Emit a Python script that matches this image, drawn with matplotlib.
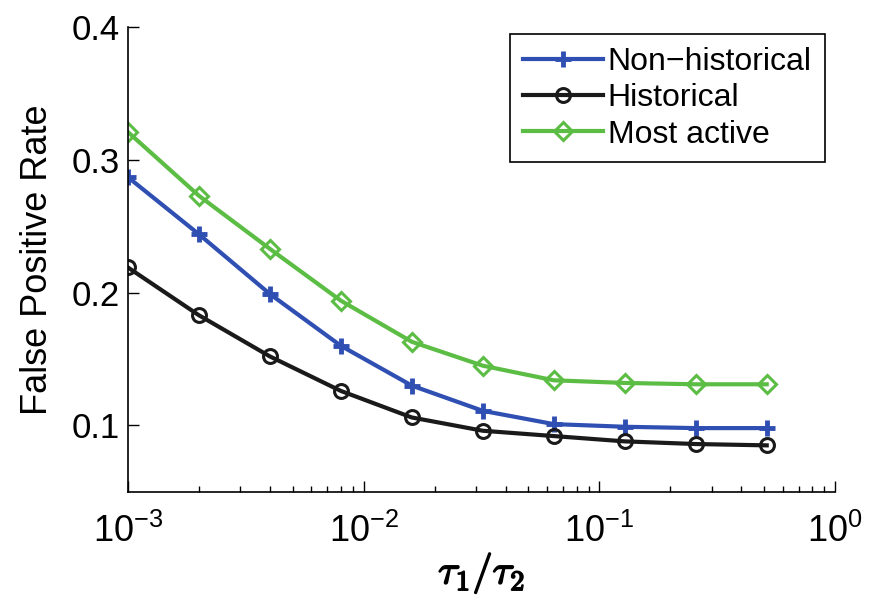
import numpy as np
import matplotlib
matplotlib.use("Agg")
import matplotlib.pyplot as plt
import matplotlib.patheffects as pe
from matplotlib.ticker import LogLocator

# data
ratio = [0.001, 0.002, 0.004, 0.008, 0.016, 0.032, 0.064, 0.128, 0.256, 0.512]
non_historical = [0.287, 0.244, 0.199, 0.160, 0.130, 0.111, 0.101, 0.099, 0.098, 0.098]
historical = [0.219, 0.183, 0.152, 0.126, 0.106, 0.096, 0.092, 0.088, 0.086, 0.085]
most_active = [0.321, 0.273, 0.233, 0.194, 0.163, 0.145, 0.134, 0.132, 0.131, 0.131]

plt.rcParams["font.family"] = ["Liberation Sans", "DejaVu Sans"]
plt.rcParams["mathtext.fontset"] = "custom"
plt.rcParams["mathtext.rm"] = "Liberation Sans"
plt.rcParams["mathtext.it"] = "Liberation Sans:italic"
plt.rcParams["mathtext.bf"] = "Liberation Sans:bold"

fig = plt.figure(figsize=(8.82, 6.02), dpi=100)
ax = fig.add_axes([0.145, 0.183, 0.802, 0.772])

ax.plot(ratio, non_historical, color="#2f4fb2", lw=3, marker="+", ms=11, mew=3.5,
        label="Non\u2212historical")
ax.plot(ratio, historical, color="#1a1a1a", lw=3, marker="o", ms=10, mew=2.2,
        mfc="none", label="Historical")
ax.plot(ratio, most_active, color="#5cbd45", lw=3, marker="D", ms=9, mew=2.2,
        mfc="none", label="Most active")

ax.set_xscale("log")
ax.set_xlim(1e-3, 1e0)
ax.set_ylim(0.05, 0.4)
ax.set_yticks([0.1, 0.2, 0.3, 0.4])
ax.set_yticklabels(["0.1", "0.2", "0.3", "0.4"])
ax.xaxis.set_major_locator(LogLocator(base=10, numticks=10))
ax.xaxis.set_minor_locator(LogLocator(base=10, subs=np.arange(2, 10), numticks=10))

for s in ["top", "right"]:
    ax.spines[s].set_visible(False)
for s in ["left", "bottom"]:
    ax.spines[s].set_linewidth(1.2)

ax.tick_params(which="major", direction="in", length=8, width=1, labelsize=26)
ax.tick_params(which="minor", direction="in", length=4, width=1)
ax.tick_params(axis="x", pad=16)
ax.tick_params(axis="y", pad=6, labelsize=25)

ax.set_ylabel("False Positive Rate", fontsize=26, labelpad=12)
ax.set_xlabel(r"$\tau_1/\tau_2$", fontsize=29, math_fontfamily="cm", labelpad=0,
              path_effects=[pe.withStroke(linewidth=1.2, foreground="black")])

leg = ax.legend(loc="upper right", bbox_to_anchor=(0.985, 0.985), fontsize=23,
                fancybox=False, framealpha=1, edgecolor="black", handlelength=2.5,
                handletextpad=0.15, borderpad=0.4, labelspacing=0.2, borderaxespad=0)
leg.get_frame().set_linewidth(1.2)

fig.savefig("out.png", dpi=100)
